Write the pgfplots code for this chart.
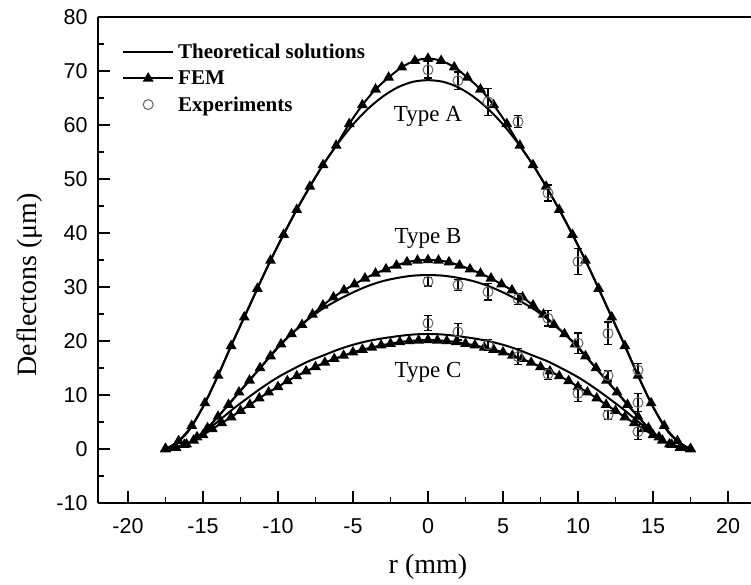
\documentclass[border=0pt]{standalone}
\usepackage{pgfplots}
\pgfplotsset{compat=1.18}
\usepackage{fontspec}
\setmainfont{Liberation Serif}
\newfontfamily\arialf{Liberation Sans}
\begin{document}
\begin{tikzpicture}
\path[use as bounding box] (-98pt,-82pt) rectangle (653pt,503pt);
\begin{axis}[
  scale only axis, width=660pt, height=486pt,
  xmin=-22, xmax=22, ymin=-10, ymax=80,
  axis x line*=bottom, axis y line*=left,
  xtick={-20,-15,...,20}, ytick={-10,0,...,80},
  minor x tick num=1, minor y tick num=1,
  tick align=inside, major tick length=12pt, minor tick length=6pt,
  every tick/.style={black, line width=1.3pt},
  axis line style={line width=1.6pt, black},
  tick label style={font=\arialf\fontsize{21.5}{25}\selectfont},
  xticklabel style={yshift=-12pt},
  yticklabel style={xshift=-7pt},
  /pgf/number format/assume math mode=true,
  xlabel={r (mm)}, ylabel={Deflectons (μm)},
  label style={font=\fontsize{28}{32}\selectfont},
  xlabel style={at={(rel axis cs:0.5,0)}, anchor=center, yshift=-64pt},
  ylabel style={at={(rel axis cs:0,0.449)}, anchor=center, yshift=68pt},
  legend style={draw=none, fill=none, at={(0,1)}, anchor=north west,
    xshift=21pt, yshift=-23pt, font=\bfseries\fontsize{21}{25}\selectfont,
    row sep=6.5pt, cells={anchor=west}},
  legend image code/.code={\draw[mark repeat=2,mark phase=2,#1] plot coordinates {(0pt,0pt) (25pt,0pt) (50pt,0pt)};},
  clip=false,
]
\draw[line width=1.6pt] (rel axis cs:0,1) -- (rel axis cs:1,1);

% Type A theory
\addplot[black, line width=2pt, smooth] coordinates {
(-17.5,0) (-17,0.6) (-16,3.2) (-15,7.8) (-14,13.6) (-13,19.9) (-12,25.9) (-11,32.0) (-10,37.7) (-9,43.1) (-8,48.0) (-7,52.6) (-6,56.6) (-5,60.1) (-4,63.0) (-3,65.3) (-2,67.0) (-1,68.0) (0,68.3)
(1,68.0) (2,67.0) (3,65.3) (4,63.0) (5,60.1) (6,56.6) (7,52.6) (8,48.0) (9,43.1) (10,37.7) (11,32.0) (12,25.9) (13,19.9) (14,13.6) (15,7.8) (16,3.2) (17,0.6) (17.5,0)};
\addlegendentry{\hspace{2pt}Theoretical solutions}

% Type A FEM
\addplot[black, line width=2pt, smooth, mark=triangle*, mark size=4.3pt, mark options={solid, fill=black}] coordinates {
(-17.5,0) (-16.625,1.5) (-15.75,4.3) (-14.875,8.5) (-14,13.6) (-13.125,19.1) (-12.25,24.4) (-11.375,29.7) (-10.5,34.9) (-9.625,39.7) (-8.75,44.3) (-7.875,48.6) (-7,52.6) (-6.125,56.2) (-5.25,60.2) (-4.375,63.7) (-3.5,66.6) (-2.625,68.8) (-1.75,70.7) (-0.875,71.9) (0,72.3)
(0.875,71.9) (1.75,70.7) (2.625,68.8) (3.5,66.6) (4.375,63.7) (5.25,60.2) (6.125,56.2) (7,52.6) (7.875,48.6) (8.75,44.3) (9.625,39.7) (10.5,34.9) (11.375,29.7) (12.25,24.4) (13.125,19.1) (14,13.6) (14.875,8.5) (15.75,4.3) (16.625,1.5) (17.5,0)};
\addlegendentry{\hspace{2pt}FEM}

% Type A experiments
\addplot[only marks, mark=o, mark size=5pt, mark options={draw=black!60, fill=white, line width=1pt},
  error bars/.cd, y dir=both, y explicit,
  error bar style={line width=1.3pt, black},
  error mark options={rotate=90, mark size=4pt, line width=1.3pt, black}] coordinates {
(0,70.2) +- (0,1.5) (2,68.2) +- (0,1.6) (4,64.3) +- (0,2.5) (6,60.6) +- (0,1.1)
(8,47.4) +- (0,1.5) (10,34.7) +- (0,2.4) (12,21.4) +- (0,2.1) (14,14.6) +- (0,1.2)};
\addlegendentry{\hspace{2pt}Experiments}

% Type B theory
\addplot[black, line width=2pt, smooth, forget plot] coordinates {
(-17.5,0) (-17,0.2) (-16,1.0) (-15,3.0) (-14,6.0) (-13,9.2) (-12,12.4) (-11,15.6) (-10,18.9) (-9,21.6) (-8,24.0) (-7,26.0) (-6,27.6) (-5,29.0) (-4,30.2) (-3,31.1) (-2,31.7) (-1,32.1) (0,32.2)
(1,32.1) (2,31.7) (3,31.1) (4,30.2) (5,29.0) (6,27.6) (7,26.0) (8,24.0) (9,21.6) (10,18.9) (11,15.6) (12,12.4) (13,9.2) (14,6.0) (15,3.0) (16,1.0) (17,0.2) (17.5,0)};

% Type B FEM
\addplot[black, line width=2pt, smooth, mark=triangle*, mark size=4.3pt, mark options={solid, fill=black}, forget plot] coordinates {
(-17.5,0) (-16.8,0.25) (-16.1,0.9) (-15.4,2.2) (-14.7,3.9) (-14,6.0) (-13.3,8.2) (-12.6,10.5) (-11.9,12.7) (-11.2,15.0) (-10.5,17.2) (-9.8,19.4) (-9.1,21.3) (-8.4,23.0) (-7.7,24.9) (-7,26.6) (-6.3,28.1) (-5.6,29.4) (-4.9,30.5) (-4.2,31.6) (-3.5,32.5) (-2.8,33.3) (-2.1,34.0) (-1.4,34.6) (-0.7,34.9) (0,35.0)
(0.7,34.9) (1.4,34.6) (2.1,34.0) (2.8,33.3) (3.5,32.5) (4.2,31.6) (4.9,30.5) (5.6,29.4) (6.3,28.1) (7,26.6) (7.7,24.9) (8.4,23.0) (9.1,21.3) (9.8,19.4) (10.5,17.2) (11.2,15.0) (11.9,12.7) (12.6,10.5) (13.3,8.2) (14,6.0) (14.7,3.9) (15.4,2.2) (16.1,0.9) (16.8,0.25) (17.5,0)};

% Type B experiments
\addplot[only marks, mark=o, mark size=5pt, mark options={draw=black!60, fill=white, line width=1pt}, forget plot,
  error bars/.cd, y dir=both, y explicit,
  error bar style={line width=1.3pt, black},
  error mark options={rotate=90, mark size=4pt, line width=1.3pt, black}] coordinates {
(0,31.0) +- (0,0.8) (2,30.4) +- (0,1.0) (4,29.1) +- (0,1.5) (6,27.8) +- (0,1.0)
(8,24.2) +- (0,1.4) (10,19.6) +- (0,1.9) (12,13.6) +- (0,1.0) (14,8.6) +- (0,1.7)};

% Type C theory
\addplot[black, line width=2pt, smooth, forget plot] coordinates {
(-17.5,0) (-17,0.2) (-16,1.1) (-15,2.9) (-14,5.1) (-13,7.4) (-12,9.5) (-11,11.5) (-10,13.3) (-9,14.8) (-8,16.2) (-7,17.3) (-6,18.4) (-5,19.3) (-4,20.0) (-3,20.5) (-2,20.9) (-1,21.2) (0,21.3)
(1,21.2) (2,20.9) (3,20.5) (4,20.0) (5,19.3) (6,18.4) (7,17.3) (8,16.2) (9,14.8) (10,13.3) (11,11.5) (12,9.5) (13,7.4) (14,5.1) (15,2.9) (16,1.1) (17,0.2) (17.5,0)};

% Type C FEM
\addplot[black, line width=2pt, smooth, mark=triangle*, mark size=4.3pt, mark options={solid, fill=black}, forget plot] coordinates {
(-17.5,0) (-16.875,0.25) (-16.25,0.8) (-15.625,1.6) (-15,2.6) (-14.375,3.7) (-13.75,4.8) (-13.125,5.9) (-12.5,7.1) (-11.875,8.2) (-11.25,9.4) (-10.625,10.5) (-10,11.5) (-9.375,12.6) (-8.75,13.5) (-8.125,14.4) (-7.5,15.2) (-6.875,16.0) (-6.25,16.7) (-5.625,17.3) (-5,17.9) (-4.375,18.4) (-3.75,18.8) (-3.125,19.2) (-2.5,19.5) (-1.875,19.8) (-1.25,20.0) (-0.625,20.1) (0,20.2)
(0.625,20.1) (1.25,20.0) (1.875,19.8) (2.5,19.5) (3.125,19.2) (3.75,18.8) (4.375,18.4) (5,17.9) (5.625,17.3) (6.25,16.7) (6.875,16.0) (7.5,15.2) (8.125,14.4) (8.75,13.5) (9.375,12.6) (10,11.5) (10.625,10.5) (11.25,9.4) (11.875,8.2) (12.5,7.1) (13.125,5.9) (13.75,4.8) (14.375,3.7) (15,2.6) (15.625,1.6) (16.25,0.8) (16.875,0.25) (17.5,0)};

% Type C experiments
\addplot[only marks, mark=o, mark size=5pt, mark options={draw=black!60, fill=white, line width=1pt}, forget plot,
  error bars/.cd, y dir=both, y explicit,
  error bar style={line width=1.3pt, black},
  error mark options={rotate=90, mark size=4pt, line width=1.3pt, black}] coordinates {
(0,23.3) +- (0,1.4) (2,21.7) +- (0,1.5) (4,19.3) +- (0,1.0) (6,17.1) +- (0,1.5)
(8,13.9) +- (0,1.0) (10,10.3) +- (0,1.5) (12,6.3) +- (0,0.8) (14,3.2) +- (0,1.4)};

\node[anchor=base, font=\fontsize{23}{27}\selectfont] at (axis cs:0,60.7) {Type A};
\node[anchor=base, font=\fontsize{23}{27}\selectfont] at (axis cs:0,38.0) {Type B};
\node[anchor=base, font=\fontsize{23}{27}\selectfont] at (axis cs:0,13.3) {Type C};
\end{axis}
\end{tikzpicture}
\end{document}
